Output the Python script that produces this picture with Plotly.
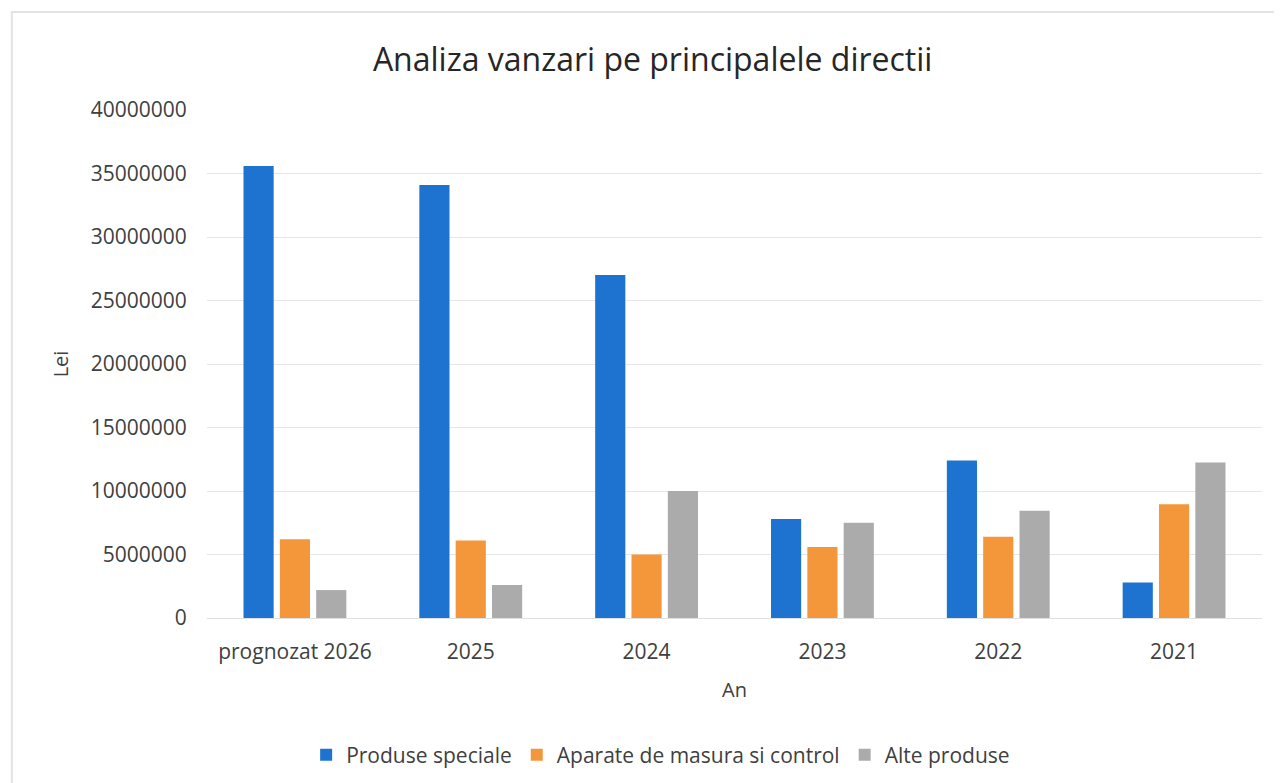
import plotly.graph_objects as go

categories = ["prognozat 2026", "2025", "2024", "2023", "2022", "2021"]
produse_speciale = [35600000, 34100000, 27000000, 7800000, 12400000, 2800000]
aparate_masura = [6200000, 6100000, 5000000, 5600000, 6400000, 8950000]
alte_produse = [2200000, 2600000, 10000000, 7500000, 8450000, 12250000]
series_names = ["Produse speciale", "Aparate de masura si control", "Alte produse"]
y_ticks = [0, 5000000, 10000000, 15000000, 20000000, 25000000, 30000000, 35000000, 40000000]

colors = ["#1E73D0", "#F4973A", "#ABABAB"]
FONT = "Open Sans"

fig = go.Figure()
for name, vals, c in zip(series_names, [produse_speciale, aparate_masura, alte_produse], colors):
    fig.add_trace(go.Bar(name=name, x=categories, y=vals, marker=dict(color=c, line=dict(width=0))))

fig.update_layout(
    width=1274, height=775,
    margin=dict(l=199, r=20, t=102, b=165, autoexpand=False),
    paper_bgcolor="white", plot_bgcolor="white",
    barmode="group", bargap=0.38, bargroupgap=0.17,
    title=dict(text="Analiza vanzari pe principalele directii", x=0.506, xanchor="center",
               y=0.933, yanchor="middle", font=dict(family=FONT, size=32, color="#262626")),
    font=dict(family=FONT, color="#404040"),
    xaxis=dict(title=dict(text="An", font=dict(size=20, color="#404040"), standoff=18),
               tickfont=dict(size=21, color="#404040"), showgrid=False, automargin=False,
               showline=True, linecolor="#E0E0E0", linewidth=1,
               ticks="outside", ticklen=15, tickcolor="rgba(0,0,0,0)"),
    yaxis=dict(title=dict(text="Lei", font=dict(size=20, color="#404040"), standoff=16),
               tickvals=y_ticks, ticktext=[str(v) for v in y_ticks], range=[0, 40000000],
               tickfont=dict(size=21, color="#404040"), gridcolor="#E6E6E6", gridwidth=1,
               automargin=False,
               zeroline=False, ticks="outside", ticklen=15, tickcolor="rgba(0,0,0,0)"),
    legend=dict(orientation="h", x=0.43, xanchor="center", y=-0.27, yanchor="middle",
                font=dict(size=21, color="#404040"), itemwidth=30, traceorder="normal"),
    shapes=[dict(type="rect", xref="paper", yref="paper", x0=-0.185, x1=1.018, y0=-0.37, y1=1.193,
                 line=dict(color="#E3E3E3", width=2), fillcolor="rgba(0,0,0,0)", layer="below")],
)

fig.write_html("out.html")
